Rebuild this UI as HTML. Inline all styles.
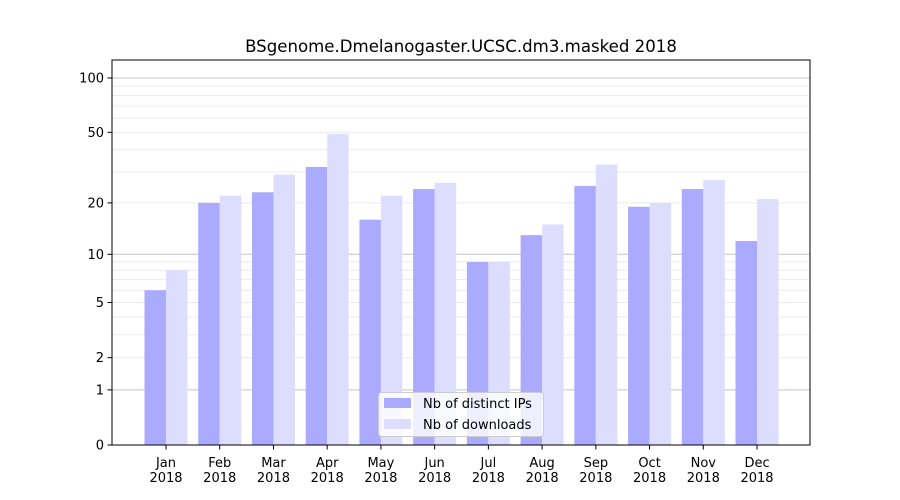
<!DOCTYPE html>
<html><head><meta charset="utf-8"><style>body{margin:0;background:#fff}svg{display:block;font-family:"DejaVu Sans","Liberation Sans",sans-serif}</style></head>
<body>
<svg id="s" width="900" height="500" xmlns="http://www.w3.org/2000/svg"></svg>
<script>
var s=document.getElementById('s'),h='';
function Y(v){return 445-183.1*Math.log10(1+v);}
h+='<rect x="0" y="0" width="900" height="500" fill="#fff"/>';
var minors=[2,3,4,5,6,7,8,9,20,30,40,50,60,70,80,90];
minors.forEach(function(v){var y=Y(v).toFixed(1);h+='<line x1="112" x2="810" y1="'+y+'" y2="'+y+'" stroke="#ebebeb" stroke-width="1"/>';});
[1,10,100].forEach(function(v){var y=Y(v).toFixed(1);h+='<line x1="112" x2="810" y1="'+y+'" y2="'+y+'" stroke="#c4c4c4" stroke-width="1"/>';});
var ip=[6,20,23,32,16,24,9,13,25,19,24,12],dl=[8,22,29,49,22,26,9,15,33,20,27,21];
var m=['Jan','Feb','Mar','Apr','May','Jun','Jul','Aug','Sep','Oct','Nov','Dec'];
for(var i=0;i<12;i++){var c=166+i*53.73;
h+='<rect x="'+(c-21.5)+'" y="'+Y(ip[i])+'" width="21.5" height="'+(445-Y(ip[i]))+'" fill="#aaaaff"/>';
h+='<rect x="'+c+'" y="'+Y(dl[i])+'" width="21.5" height="'+(445-Y(dl[i]))+'" fill="#ddddff"/>';
h+='<line x1="'+c+'" x2="'+c+'" y1="445" y2="449.5" stroke="#000"/>';
h+='<text x="'+c+'" y="467" font-size="13" text-anchor="middle">'+m[i]+'</text><text x="'+c+'" y="482" font-size="13" text-anchor="middle">2018</text>';}
[[0,'0'],[1,'1'],[2,'2'],[5,'5'],[10,'10'],[20,'20'],[50,'50'],[100,'100']].forEach(function(t){var y=Y(t[0]);
h+='<line x1="107.5" x2="112" y1="'+y+'" y2="'+y+'" stroke="#000"/><text x="104" y="'+(y+4.5)+'" font-size="13" text-anchor="end">'+t[1]+'</text>';});
h+='<rect x="112" y="60" width="698" height="385" fill="none" stroke="#000" stroke-width="1"/>';
h+='<rect x="378.5" y="392.5" width="165" height="44" rx="3" fill="#fff" fill-opacity="0.8" stroke="#ccc"/>';
h+='<rect x="384" y="398" width="27" height="10" fill="#aaaaff"/><text x="423" y="408" font-size="13">Nb of distinct IPs</text>';
h+='<rect x="384" y="419" width="27" height="10" fill="#ddddff"/><text x="423" y="429" font-size="13">Nb of downloads</text>';
h+='<text x="461" y="52" font-size="16.6" text-anchor="middle">BSgenome.Dmelanogaster.UCSC.dm3.masked 2018</text>';
s.innerHTML=h;
</script>
</body></html>
